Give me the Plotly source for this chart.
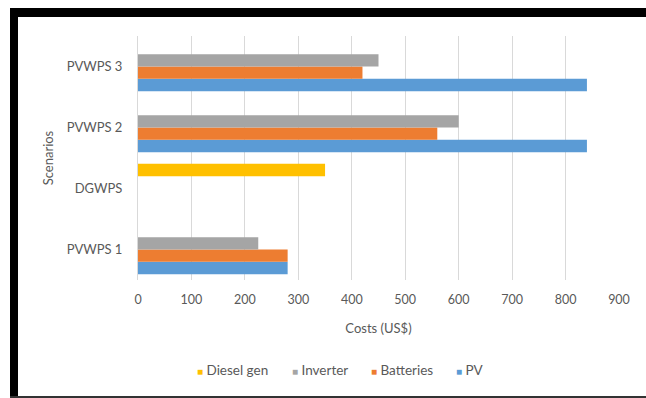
import plotly.graph_objects as go

# Scenario cost breakdown (US$)
scenarios = ["PVWPS 1", "DGWPS", "PVWPS 2", "PVWPS 3"]
pv = [280, 0, 840, 840]
batteries = [280, 0, 560, 420]
inverter = [225, 0, 600, 450]
diesel_gen = [0, 350, 0, 0]

series = [
    ("PV", pv, "#5B9BD5"),
    ("Batteries", batteries, "#ED7D31"),
    ("Inverter", inverter, "#A5A5A5"),
    ("Diesel gen", diesel_gen, "#FFC000"),
]

FONT = "Lato"
GREY = "#595959"

fig = go.Figure()
for name, vals, color in series:
    fig.add_trace(go.Bar(
        y=scenarios, x=vals, name=name, orientation="h",
        marker=dict(color=color, line=dict(width=0)),
        showlegend=False,
    ))

W, H = 646, 398
L, R, T, B = 138, 27, 36, 118
pw, ph = W - L - R, H - T - B


def px_x(p):
    return (p - L) / pw


def px_y(p):
    return (H - B - p) / ph


# black frame around the chart
frame = [
    (10, 8, W, 17, "black"),
    (10, 8, 18, H, "black"),
    (10, 396, W, H, "#333333"),
]
shapes = [
    dict(type="rect", xref="paper", yref="paper",
         x0=px_x(a), x1=px_x(c), y0=px_y(d), y1=px_y(b),
         fillcolor=col, line=dict(width=0), layer="above")
    for a, b, c, d, col in frame
]

# legend row below the axis title, top series first
legend_left = [195, 290, 369, 454]
legend_items = [
    dict(text="<span style='color:{};font-size:10px'>■</span>&nbsp;{}".format(color, name),
         xref="paper", yref="paper", x=px_x(xl), y=px_y(370),
         xanchor="left", yanchor="middle", showarrow=False,
         font=dict(size=13.5, color=GREY, family=FONT))
    for (name, _, color), xl in zip(reversed(series), legend_left)
]

fig.update_layout(
    width=W, height=H,
    margin=dict(l=L, r=R, t=T, b=B, pad=0, autoexpand=False),
    barmode="group", bargap=0.19, bargroupgap=0,
    plot_bgcolor="white", paper_bgcolor="white",
    font=dict(family=FONT, size=12.5, color=GREY),
    showlegend=False,
    xaxis=dict(range=[0, 900], dtick=100, tick0=0, automargin=False,
               showgrid=True, gridcolor="#D9D9D9", gridwidth=1,
               zeroline=False, showline=False, ticks="",
               ticklabelstandoff=10,
               tickfont=dict(size=12.5, color=GREY),
               title=dict(text="Costs (US$)", standoff=18,
                          font=dict(size=13, color=GREY))),
    yaxis=dict(showgrid=False, zeroline=False, automargin=False,
               showline=True, linecolor="#D9D9D9", linewidth=1,
               ticks="", ticklabelstandoff=12,
               tickfont=dict(size=13, color=GREY),
               title=dict(text="Scenarios", standoff=10,
                          font=dict(size=13, color=GREY))),
    shapes=shapes,
    annotations=legend_items,
)

fig.write_html("out.html")
